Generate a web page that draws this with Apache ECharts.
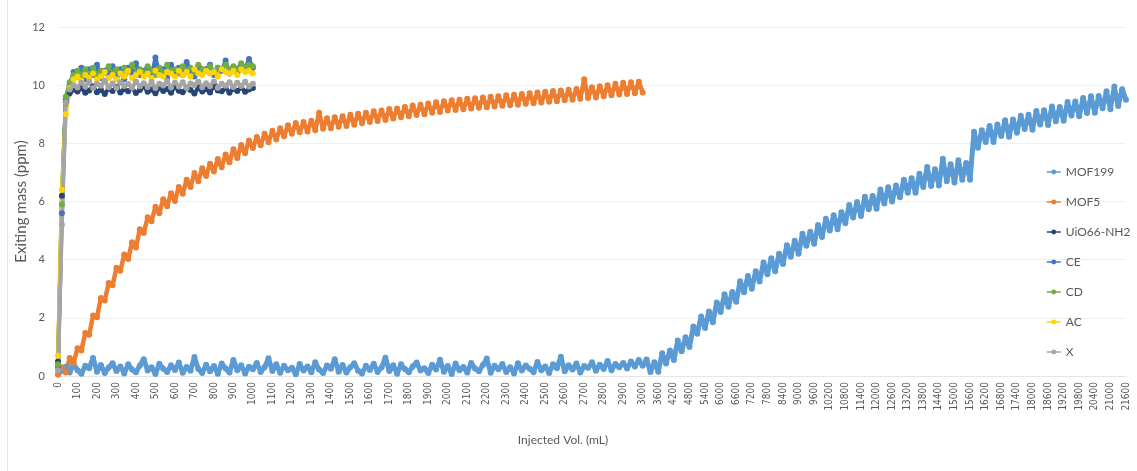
<!DOCTYPE html>
<html>
<head>
<meta charset="utf-8">
<script src="https://cdn.jsdelivr.net/npm/echarts@6/dist/echarts.min.js"></script>
<style>
  html, body { margin: 0; padding: 0; background: #ffffff; }
  #chart { width: 1137px; height: 471px; }
</style>
</head>
<body>
<div id="chart"></div>
<script>
// Injected volume categories (mL): 20 mL steps up to 3000, then 150 mL steps to 21600
const volFineStep = 20, volFineEnd = 3000, volCoarseStep = 150, volEnd = 21600;
const volumes = [];
for (let v = 0; v <= volFineEnd; v += volFineStep) volumes.push(String(v));
for (let v = volFineEnd + volCoarseStep; v <= volEnd; v += volCoarseStep) volumes.push(String(v));

// Labelled ticks: every 100 mL up to 3000, then every 600 mL
const labelStepFine = 100, labelStepCoarse = 600;

// Series names
const seriesNames = ['MOF199', 'MOF5', 'UiO66-NH2', 'CE', 'CD', 'AC', 'X'];

// MOF199, 0-3000 mL
const mof199Early = [
  0.05,0.18,0.32,0.12,0.41,0.2,0.08,0.35,0.27,0.62,0.15,0.38,0.1,0.29,0.44,0.17,0.33,0.09,0.4,0.22,
  0.13,0.36,0.58,0.19,0.3,0.07,0.42,0.25,0.14,0.37,0.21,0.46,0.11,0.31,0.18,0.65,0.24,0.1,0.39,0.16,
  0.34,0.08,0.43,0.26,0.12,0.55,0.2,0.37,0.09,0.32,0.23,0.45,0.14,0.3,0.61,0.17,0.4,0.11,0.35,0.2,
  0.28,0.06,0.41,0.19,0.33,0.13,0.47,0.22,0.1,0.36,0.25,0.58,0.15,0.38,0.12,0.3,0.44,0.18,0.09,0.35,
  0.21,0.42,0.14,0.29,0.63,0.17,0.37,0.08,0.4,0.24,0.13,0.33,0.46,0.19,0.27,0.1,0.39,0.22,0.56,0.15,
  0.34,0.07,0.43,0.2,0.31,0.12,0.45,0.26,0.16,0.38,0.6,0.11,0.35,0.23,0.41,0.14,0.3,0.09,0.44,0.19,
  0.36,0.25,0.13,0.48,0.2,0.33,0.1,0.4,0.27,0.66,0.16,0.37,0.22,0.43,0.12,0.34,0.28,0.47,0.18,0.39,
  0.24,0.52,0.2,0.41,0.3,0.45,0.26,0.5,0.33,0.55,0.35
];
// MOF199, 3150-21600 mL
const mof199Late = [
  0.57,0.14,0.47,0.15,0.78,0.43,0.88,0.55,
  1.22,0.85,1.33,1.0,1.7,1.45,2.05,1.65,
  2.22,1.85,2.53,2.2,2.81,2.38,2.89,2.55,
  3.26,2.88,3.44,3.0,3.6,3.25,3.9,3.5,
  4.05,3.6,4.2,3.85,4.5,4.1,4.65,4.2,
  4.89,4.48,4.96,4.55,5.19,4.78,5.41,5.0,
  5.53,5.05,5.63,5.25,5.88,5.45,5.98,5.5,
  6.16,5.73,6.19,5.75,6.41,5.93,6.49,6.0,
  6.55,6.15,6.75,6.3,6.8,6.3,6.95,6.5,
  7.19,6.53,7.11,6.55,7.47,6.7,7.28,6.65,
  7.42,6.75,7.32,6.75,8.4,7.85,8.45,8.05,
  8.6,8.05,8.65,8.25,8.79,8.23,8.82,8.36,
  8.95,8.49,8.98,8.47,9.11,8.65,9.14,8.63,
  9.27,8.76,9.25,8.78,9.42,8.96,9.44,8.93,
  9.56,9.04,9.62,9.05,9.63,9.21,9.79,9.17,
  9.95,9.28,9.86,9.5
];
const mof199 = mof199Early.concat(mof199Late);

// MOF5, 0-3000 mL
const mof5 = [
  0.05,0.3,0.12,0.62,0.45,0.95,0.88,1.48,1.42,2.08,
  2.02,2.68,2.6,3.2,3.12,3.72,3.62,4.18,4.02,4.6,
  4.42,5.05,4.92,5.46,5.32,5.82,5.6,6.08,5.84,6.28,
  6.02,6.5,6.27,6.75,6.5,6.98,6.7,7.14,6.88,7.3,
  7.03,7.46,7.18,7.62,7.35,7.8,7.5,7.94,7.66,8.1,
  7.84,8.22,7.93,8.33,8.04,8.43,8.13,8.52,8.24,8.62,
  8.33,8.7,8.38,8.73,8.41,8.78,8.45,9.05,8.5,8.86,
  8.52,8.9,8.57,8.93,8.6,8.98,8.64,9.02,8.69,9.05,
  8.73,9.1,8.77,9.13,8.8,9.18,8.85,9.2,8.9,9.25,
  8.93,9.3,8.97,9.33,9.0,9.37,9.05,9.41,9.08,9.45,
  9.13,9.48,9.15,9.5,9.17,9.53,9.2,9.55,9.22,9.58,
  9.24,9.6,9.27,9.62,9.29,9.65,9.31,9.67,9.33,9.7,
  9.36,9.72,9.38,9.75,9.4,9.77,9.43,9.8,9.45,9.82,
  9.48,9.84,9.5,9.87,9.53,10.2,9.56,9.93,9.58,9.96,
  9.62,10.0,9.65,10.05,9.68,10.08,9.7,10.1,9.72,10.12,
  9.75
];

// Fast-breakthrough sorbents, 0-1000 mL
const uio66 = [
  0.5,6.2,9.4,9.72,9.85,9.78,9.9,9.74,9.82,9.95,
  9.76,9.84,9.7,9.88,9.8,9.93,9.75,9.86,9.79,9.9,
  9.73,9.83,9.96,9.77,9.85,9.72,9.91,9.8,9.87,9.74,
  9.94,9.81,9.76,9.89,9.83,9.71,9.92,9.78,9.86,9.75,
  9.97,9.82,9.79,9.9,9.74,9.88,9.8,9.93,9.77,9.85,9.9
];
const ce = [
  0.3,5.6,9.5,10.0,10.45,10.3,10.6,10.2,10.55,10.35,
  10.7,10.25,10.5,10.4,10.65,10.3,10.55,10.2,10.6,10.45,
  10.75,10.35,10.5,10.6,10.3,10.95,10.4,10.55,10.25,10.7,
  10.45,10.6,10.35,10.8,10.5,10.3,10.65,10.4,10.55,10.7,
  10.35,10.6,10.5,10.85,10.4,10.6,10.45,10.7,10.55,10.9,10.6
];
const cd = [
  0.4,5.9,9.6,10.1,10.35,10.5,10.3,10.55,10.4,10.6,
  10.3,10.5,10.45,10.65,10.35,10.55,10.4,10.6,10.5,10.7,
  10.4,10.55,10.45,10.65,10.5,10.35,10.6,10.45,10.7,10.5,
  10.55,10.4,10.65,10.5,10.6,10.45,10.7,10.55,10.5,10.65,
  10.45,10.6,10.55,10.7,10.5,10.65,10.55,10.75,10.6,10.7,10.65
];
const ac = [
  0.7,6.4,9.0,9.9,10.2,10.3,10.15,10.35,10.25,10.4,
  10.2,10.3,10.45,10.25,10.35,10.2,10.4,10.3,10.5,10.25,
  10.35,10.45,10.3,10.4,10.25,10.5,10.35,10.3,10.45,10.4,
  10.3,10.5,10.35,10.45,10.3,10.55,10.4,10.35,10.5,10.4,
  10.45,10.3,10.55,10.45,10.4,10.5,10.35,10.55,10.45,10.5,10.4
];
const xSorbent = [
  0.2,5.2,9.4,9.85,10.0,9.92,10.08,9.95,10.12,9.9,
  10.05,9.98,10.15,9.93,10.06,9.9,10.1,9.97,10.04,9.91,
  10.13,9.96,10.07,9.94,10.11,9.9,10.05,9.99,10.14,9.92,
  10.08,9.95,10.1,9.9,10.06,10.0,10.12,9.93,10.07,9.96,
  10.13,9.91,10.05,9.98,10.1,9.94,10.08,9.97,10.12,9.95,10.05
];

const seriesData = [mof199, mof5, uio66, ce, cd, ac, xSorbent];
const seriesColors = ['#5B9BD5', '#ED7D31', '#264478', '#4472C4', '#70AD47', '#FFD400', '#A5A5A5'];
// Stroke widths per series (dense noisy traces read as solid bands)
const seriesWidths = [5, 4.5, 4, 4, 4, 4, 4];

function isLabelled(v) {
  const n = Number(v);
  if (n <= volFineEnd) return n % labelStepFine === 0;
  return (n - volFineEnd) % labelStepCoarse === 0;
}

const textColor = '#595959';
const chart = echarts.init(document.getElementById('chart'), null, { renderer: 'canvas' });

chart.setOption({
  animation: false,
  backgroundColor: '#ffffff',
  textStyle: { fontFamily: 'Lato, "Open Sans", sans-serif' },
  grid: { left: 58, right: 11, top: 27, bottom: 95, containLabel: false },
  legend: {
    orient: 'vertical',
    left: 1041,
    top: 161,
    itemWidth: 14,
    itemHeight: 6,
    itemGap: 18,
    data: seriesNames.map(function (n, i) {
      return { name: n, itemStyle: { color: seriesColors[i] }, lineStyle: { width: 1.5, color: seriesColors[i] } };
    }),
    textStyle: { color: textColor, fontSize: 12, fontFamily: 'Lato, sans-serif' }
  },
  xAxis: {
    type: 'category',
    data: volumes,
    boundaryGap: false,
    name: 'Injected Vol. (mL)',
    nameLocation: 'middle',
    nameGap: 58,
    nameMoveOverlap: false,
    nameTextStyle: { color: textColor, fontSize: 12, padding: [0, 58, 0, 0] },
    axisLine: { show: true, lineStyle: { color: '#e6e6e6' } },
    axisTick: { show: false },
    axisLabel: {
      interval: function (index, value) { return isLabelled(value); },
      rotate: 90,
      margin: 6,
      color: textColor,
      fontSize: 10,
      fontFamily: '"Liberation Sans Narrow", "DejaVu Sans Condensed", sans-serif'
    },
    splitLine: { show: false }
  },
  yAxis: {
    type: 'value',
    min: 0,
    max: 12,
    interval: 2,
    name: 'Exiting mass (ppm)',
    nameLocation: 'middle',
    nameGap: 29,
    nameMoveOverlap: false,
    nameTextStyle: { color: textColor, fontSize: 15 },
    axisLine: { show: false },
    axisTick: { show: false },
    axisLabel: { color: textColor, fontSize: 11, margin: 13 },
    splitLine: { show: true, lineStyle: { color: '#f0f0f0', width: 1 } }
  },
  graphic: [{
    type: 'line',
    shape: { x1: 7.5, y1: 0, x2: 7.5, y2: 471 },
    style: { stroke: '#e6e6e6', lineWidth: 1 },
    silent: true
  }],
  series: seriesNames.map(function (name, i) {
    return {
      name: name,
      type: 'line',
      data: seriesData[i],
      color: seriesColors[i],
      symbol: 'circle',
      symbolSize: 6,
      showSymbol: true,
      showAllSymbol: true,
      lineStyle: { width: seriesWidths[i], color: seriesColors[i] },
      itemStyle: { color: seriesColors[i] },
      emphasis: { disabled: true }
    };
  })
});
</script>
</body>
</html>
